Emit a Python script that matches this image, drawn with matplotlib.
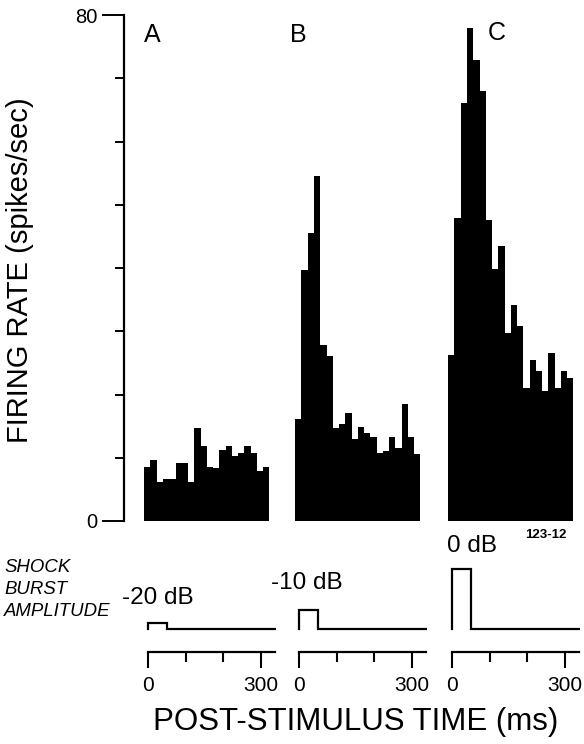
import matplotlib
matplotlib.use("Agg")
import matplotlib.pyplot as plt
import numpy as np

plt.rcParams['font.family'] = ['Liberation Sans', 'DejaVu Sans']

# ---- data ----
panel_labels = ["A", "B", "C"]
db_levels = [-20, -10, 0]
rate_A = [8.5, 9.6, 6.2, 6.6, 6.6, 9.2, 9.2, 6.2, 14.7, 11.8,
          8.6, 8.4, 11.3, 11.8, 10.3, 10.8, 11.8, 10.8, 7.9, 8.5]
rate_B = [16.1, 39.7, 45.6, 54.6, 27.9, 26.1, 14.7, 15.3, 17.1, 13.0,
          14.9, 13.9, 13.3, 10.7, 11.0, 13.3, 11.5, 18.5, 13.3, 10.6]
rate_C = [26.3, 47.9, 66.1, 78.0, 72.9, 68.0, 47.6, 39.9, 43.4, 29.8,
          34.1, 30.9, 21.1, 25.4, 23.7, 20.6, 26.5, 21.1, 23.7, 22.6]
rates = [rate_A, rate_B, rate_C]
bin_start = -10.0      # ms
bin_width = 16.6       # ms
pulse_dur = 50         # ms
time_ticks_major = [0, 300]
time_ticks_minor = [100, 200]
y_ticks_major = [0, 80]
y_ticks_minor = [10, 20, 30, 40, 50, 60, 70]

# ---- layout helpers (pixels) ----
W, H = 584, 744
fig = plt.figure(figsize=(W / 100, H / 100), dpi=100)

def rect(x0, y_top, w, h):
    return [x0 / W, 1 - (y_top + h) / H, w / W, h / H]

px_per_ms = 0.377
xlim = (-15, 340)
panel_zero_px = [148, 299, 452]
y_top_px, y_bot_px = 15, 521

# y axis
axy = fig.add_axes(rect(124, y_top_px, 10, y_bot_px - y_top_px))
axy.set_ylim(0, 80)
axy.set_xlim(0, 1)
for s in ['top', 'right', 'bottom']:
    axy.spines[s].set_visible(False)
axy.spines['left'].set_linewidth(1.6)
axy.set_xticks([])
axy.set_yticks(y_ticks_major)
axy.set_yticks(y_ticks_minor, minor=True)
axy.tick_params(axis='y', which='major', length=16, width=1.4, labelsize=14.5, pad=3)
axy.tick_params(axis='y', which='minor', length=6.5, width=1.4)
axy.patch.set_alpha(0)

fig.text(20 / W, 1 - 270 / H, "FIRING RATE (spikes/sec)", rotation=90,
         ha='center', va='center', fontsize=21)

for i, (lab, r, db) in enumerate(zip(panel_labels, rates, db_levels)):
    x0 = panel_zero_px[i] + xlim[0] * px_per_ms
    wpx = (xlim[1] - xlim[0]) * px_per_ms
    ax = fig.add_axes(rect(x0, y_top_px, wpx, y_bot_px - y_top_px))
    edges = bin_start + bin_width * np.arange(len(r))
    ax.bar(edges, r, width=bin_width, align='edge', color='black', linewidth=0)
    ax.set_xlim(*xlim)
    ax.set_ylim(0, 80)
    ax.axis('off')

    # stimulus trace + time axis
    axs = fig.add_axes(rect(x0, 540, wpx, 160))
    axs.set_xlim(*xlim)
    axs.set_ylim(-48, 112)
    base = 23
    amp = 60 * 10 ** (db / 20)
    tx = [0, 0, pulse_dur, pulse_dur, 336]
    ty = [base, base + amp, base + amp, base, base]
    axs.plot(tx, ty, color='black', lw=1.6, solid_joinstyle='miter')
    for s in ['top', 'right', 'left']:
        axs.spines[s].set_visible(False)
    axs.spines['bottom'].set_position(('data', 0))
    axs.spines['bottom'].set_bounds(0, 336)
    axs.spines['bottom'].set_linewidth(1.6)
    axs.set_yticks([])
    axs.set_xticks(time_ticks_major)
    axs.set_xticks(time_ticks_minor, minor=True)
    axs.tick_params(axis='x', which='major', length=11.5, width=1.5, labelsize=15, pad=6)
    axs.tick_params(axis='x', which='minor', length=7.5, width=1.5)
    axs.patch.set_alpha(0)

# panel letters
fig.text(152 / W, 1 - 35 / H, "A", ha='center', va='center', fontsize=18)
fig.text(298 / W, 1 - 35 / H, "B", ha='center', va='center', fontsize=18)
fig.text(497 / W, 1 - 33 / H, "C", ha='center', va='center', fontsize=18)

# dB labels
fig.text(122 / W, 1 - 598 / H, "-20 dB", ha='left', va='center', fontsize=17.5)
fig.text(271 / W, 1 - 583 / H, "-10 dB", ha='left', va='center', fontsize=17.5)
fig.text(447 / W, 1 - 546 / H, "0 dB", ha='left', va='center', fontsize=17.5)
fig.text(566 / W, 1 - 535 / H, "123-12", ha='right', va='center', fontsize=9.5, fontweight='bold')

for txt, yy in zip(["SHOCK", "BURST", "AMPLITUDE"], [567, 590, 612]):
    fig.text(4 / W, 1 - yy / H, txt, ha='left', va='center', fontsize=13.4, style='italic')

fig.text(356 / W, 1 - 722 / H, "POST-STIMULUS TIME (ms)", ha='center', va='center', fontsize=22.5)

fig.savefig("out.png", dpi=100)
